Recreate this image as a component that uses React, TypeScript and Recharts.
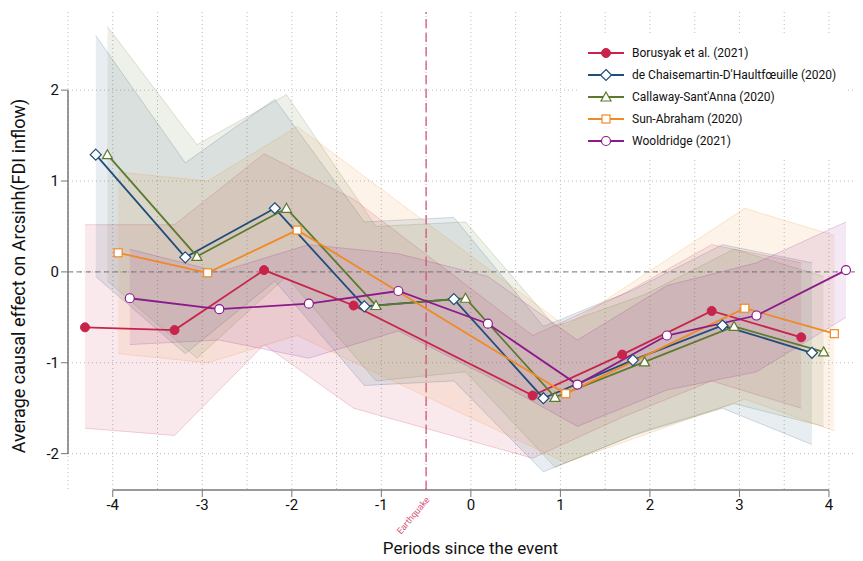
import React from "react";
import { ComposedChart, Area, Line, XAxis, YAxis, CartesianGrid, ReferenceLine } from "recharts";

const borX = [-4.31, -3.31, -2.31, -1.31, 0.69, 1.69, 2.69, 3.69];
const borY = [-0.61, -0.64, 0.02, -0.37, -1.36, -0.91, -0.43, -0.72];
const borLo = [-1.72, -1.8, -0.8, -1.5, -2.05, -1.6, -1.2, -1.5];
const borHi = [0.52, 0.52, 1.3, 0.8, -0.7, -0.25, 0.3, 0.1];

const dchX = [-4.19, -3.19, -2.19, -1.19, -0.19, 0.81, 1.81, 2.81, 3.81];
const dchY = [1.29, 0.16, 0.7, -0.38, -0.3, -1.39, -0.97, -0.59, -0.89];
const dchLo = [-0.05, -0.9, -0.1, -1.25, -1.2, -2.2, -1.8, -1.5, -1.9];
const dchHi = [2.6, 1.2, 1.9, 0.55, 0.6, -0.6, -0.2, 0.3, 0.1];

const csX = [-4.06, -3.06, -2.06, -1.06, -0.06, 0.94, 1.94, 2.94, 3.94];
const csY = [1.29, 0.17, 0.7, -0.37, -0.29, -1.38, -0.99, -0.6, -0.88];
const csLo = [-0.1, -0.95, -0.05, -1.2, -1.1, -2.15, -1.75, -1.45, -1.7];
const csHi = [2.7, 1.4, 1.95, 0.5, 0.55, -0.6, -0.25, 0.25, -0.05];

const saX = [-3.94, -2.94, -1.94, 1.06, 3.06, 4.06];
const saY = [0.21, -0.01, 0.46, -1.34, -0.4, -0.68];
const saLo = [-0.9, -1.0, -0.7, -2.1, -1.4, -1.75];
const saHi = [1.1, 1.0, 1.6, -0.6, 0.7, 0.4];

const wooX = [-3.81, -2.81, -1.81, -0.81, 0.19, 1.19, 2.19, 3.19, 4.19];
const wooY = [-0.29, -0.41, -0.35, -0.21, -0.57, -1.24, -0.7, -0.48, 0.02];
const wooLo = [-0.8, -0.75, -0.95, -0.65, -1.15, -1.7, -1.3, -1.1, -0.5];
const wooHi = [0.25, 0.0, 0.3, 0.2, -0.05, -0.75, -0.15, 0.1, 0.55];

const xTicks = [-4, -3, -2, -1, 0, 1, 2, 3, 4];
const yTicks = [-2, -1, 0, 1, 2];
const xGrid = [-4.5, -4, -3.5, -3, -2.5, -2, -1.5, -1, -0.5, 0, 0.5, 1, 1.5, 2, 2.5, 3, 3.5, 4];

const build = (xs: number[], ys: number[], lo: number[], hi: number[]) =>
  xs.map((x, i) => ({ x, y: ys[i], band: [lo[i], hi[i]] }));

const series = [
  { name: "Borusyak et al. (2021)", color: "#c8234a", shape: "dot", data: build(borX, borY, borLo, borHi) },
  { name: "de Chaisemartin-D'Haultfœuille  (2020)", color: "#1f4e79", shape: "diamond", data: build(dchX, dchY, dchLo, dchHi) },
  { name: "Callaway-Sant'Anna (2020)", color: "#5b7a2e", shape: "triangle", data: build(csX, csY, csLo, csHi) },
  { name: "Sun-Abraham (2020)", color: "#f08a24", shape: "square", data: build(saX, saY, saLo, saHi) },
  { name: "Wooldridge (2021)", color: "#8b1a8b", shape: "circle", data: build(wooX, wooY, wooLo, wooHi) },
];

function Marker({ cx, cy, shape, color }: any) {
  if (cx == null || cy == null) return null;
  if (shape === "dot") return <circle cx={cx} cy={cy} r={4.5} fill={color} stroke={color} />;
  if (shape === "diamond")
    return <polygon points={`${cx},${cy - 5.5} ${cx + 5.5},${cy} ${cx},${cy + 5.5} ${cx - 5.5},${cy}`} fill="white" stroke={color} strokeWidth={1.2} />;
  if (shape === "triangle")
    return <polygon points={`${cx},${cy - 5} ${cx + 5},${cy + 4} ${cx - 5},${cy + 4}`} fill="white" stroke={color} strokeWidth={1.2} />;
  if (shape === "square") return <rect x={cx - 4} y={cy - 4} width={8} height={8} fill="white" stroke={color} strokeWidth={1.2} />;
  return <circle cx={cx} cy={cy} r={4.5} fill="white" stroke={color} strokeWidth={1.2} />;
}

export default function App() {
  return (
    <div style={{ position: "relative", width: 855, height: 553, fontFamily: "Roboto" }}>
      <ComposedChart width={855} height={553} margin={{ top: 4, right: 0, bottom: 31, left: 0 }}>
        <CartesianGrid strokeDasharray="1 3" stroke="#bbb" verticalValues={xGrid} horizontalValues={yTicks} />
        <XAxis type="number" dataKey="x" domain={[-4.5, 4.38]} ticks={xTicks} allowDataOverflow axisLine={false}
          tickLine={{ stroke: "#777" }} tickSize={7} height={40} tick={{ fill: "#111", fontSize: 15 }} />
        <YAxis type="number" domain={[-2.4, 2.86]} ticks={yTicks} allowDataOverflow axisLine={false} width={60}
          tickLine={{ stroke: "#777" }} tickSize={7} tick={{ fill: "#111", fontSize: 15 }} />
        <ReferenceLine segment={[{ x: -4.5, y: -2 }, { x: -4.5, y: 2 }]} stroke="#777" strokeWidth={1.5} />
        <ReferenceLine segment={[{ x: -4, y: -2.4 }, { x: 4, y: -2.4 }]} stroke="#777" strokeWidth={1.5} />
        {series.map((s) => (
          <Area key={s.name + "b"} data={s.data} dataKey="band" type="linear" fill={s.color} fillOpacity={0.1}
            stroke={s.color} strokeOpacity={0.2} isAnimationActive={false} />
        ))}
        <ReferenceLine y={0} stroke="#777" strokeDasharray="5 4" />
        <ReferenceLine x={-0.5} stroke="#d6557a" strokeDasharray="9 5" strokeWidth={1.3}
          label={(p: any) => (
            <text x={p.viewBox.x + 4} y={p.viewBox.y + p.viewBox.height + 10} fontSize={9} fill="#d6557a"
              textAnchor="end" transform={`rotate(-50 ${p.viewBox.x + 4} ${p.viewBox.y + p.viewBox.height + 10})`}>Earthquake</text>
          )} />
        {series.map((s) => (
          <Line key={s.name} data={s.data} dataKey="y" type="linear" stroke={s.color} strokeWidth={1.8}
            dot={(p: any) => <Marker key={p.index} cx={p.cx} cy={p.cy} shape={s.shape} color={s.color} />}
            isAnimationActive={false} />
        ))}
      </ComposedChart>
      <div style={{ position: "absolute", left: 0, top: 530, width: 855, textAlign: "center", paddingLeft: 70, boxSizing: "border-box", fontSize: 17, color: "#111" }}>
        Periods since the event
      </div>
      <div style={{ position: "absolute", left: 10, top: 268, transform: "translate(-50%, -50%) rotate(-90deg)", whiteSpace: "nowrap", fontSize: 18, color: "#111" }}>
        Average causal effect on Arcsinh(FDI inflow)
      </div>
      <div style={{ position: "absolute", left: 570, top: 28, background: "white", padding: "6px 10px", fontSize: 12, color: "#111" }}>
        {series.map((s) => (
          <div key={s.name} style={{ display: "flex", alignItems: "center", height: 22 }}>
            <svg width={36} height={14} style={{ marginRight: 8 }}>
              <line x1={0} y1={7} x2={36} y2={7} stroke={s.color} strokeWidth={1.8} />
              <Marker cx={18} cy={7} shape={s.shape} color={s.color} />
            </svg>
            {s.name}
          </div>
        ))}
      </div>
    </div>
  );
}
